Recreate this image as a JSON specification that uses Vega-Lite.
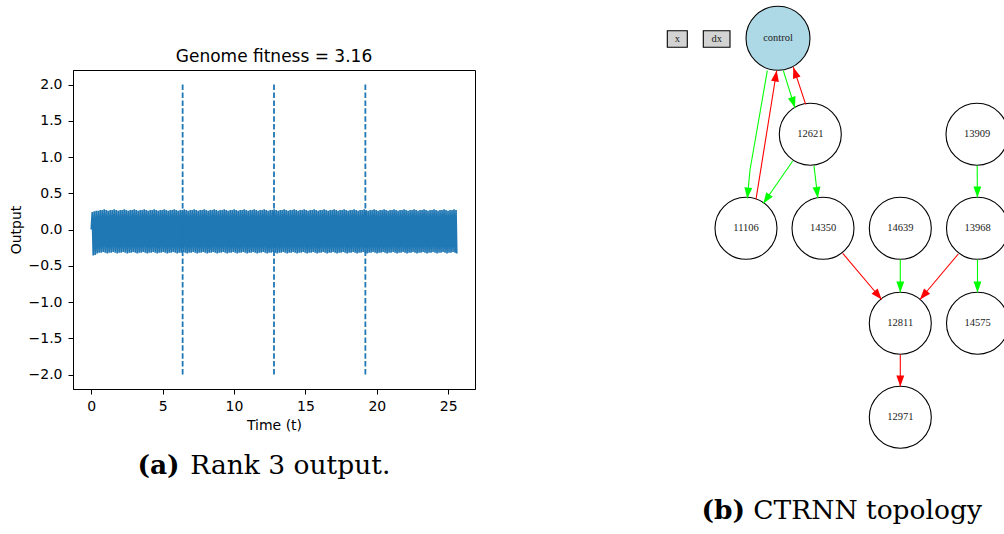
{
  "$schema": "https://vega.github.io/schema/vega-lite/v6.json",
  "background": "white",
  "padding": {"left": 8, "top": 0, "right": 0, "bottom": 0},
  "spacing": 125,
  "bounds": "flush",
  "center": true,
  "config": {"view": {"stroke": null}, "axis": {"labelOverlap": false}},
  "datasets": {
    "signal": [
      {"t":0,"v":0},{"t":0.07,"v":0.24},{"t":0.14,"v":-0.36},{"t":0.21,"v":0.25},{"t":0.28,"v":-0.35},{"t":0.35,"v":0.26},{"t":0.42,"v":-0.33},{"t":0.49,"v":0.26},{"t":0.56,"v":-0.32},{"t":0.63,"v":0.27},
      {"t":0.7,"v":-0.32},{"t":0.77,"v":0.27},{"t":0.84,"v":-0.31},{"t":0.91,"v":0.28},{"t":0.98,"v":-0.32},{"t":1.05,"v":0.27},{"t":1.12,"v":-0.33},{"t":1.19,"v":0.26},{"t":1.26,"v":-0.32},{"t":1.33,"v":0.27},
      {"t":1.4,"v":-0.32},{"t":1.47,"v":0.27},{"t":1.54,"v":-0.31},{"t":1.61,"v":0.28},{"t":1.68,"v":-0.32},{"t":1.75,"v":0.27},{"t":1.82,"v":-0.33},{"t":1.89,"v":0.26},{"t":1.96,"v":-0.32},{"t":2.03,"v":0.27},
      {"t":2.1,"v":-0.32},{"t":2.17,"v":0.27},{"t":2.24,"v":-0.31},{"t":2.31,"v":0.28},{"t":2.38,"v":-0.32},{"t":2.45,"v":0.27},{"t":2.52,"v":-0.33},{"t":2.59,"v":0.26},{"t":2.66,"v":-0.32},{"t":2.73,"v":0.27},
      {"t":2.8,"v":-0.32},{"t":2.87,"v":0.27},{"t":2.94,"v":-0.31},{"t":3.01,"v":0.28},{"t":3.08,"v":-0.32},{"t":3.15,"v":0.27},{"t":3.22,"v":-0.33},{"t":3.29,"v":0.26},{"t":3.36,"v":-0.32},{"t":3.43,"v":0.27},
      {"t":3.5,"v":-0.32},{"t":3.57,"v":0.27},{"t":3.64,"v":-0.31},{"t":3.71,"v":0.28},{"t":3.78,"v":-0.32},{"t":3.85,"v":0.27},{"t":3.92,"v":-0.33},{"t":3.99,"v":0.26},{"t":4.06,"v":-0.32},{"t":4.13,"v":0.27},
      {"t":4.2,"v":-0.32},{"t":4.27,"v":0.27},{"t":4.34,"v":-0.31},{"t":4.41,"v":0.28},{"t":4.48,"v":-0.32},{"t":4.55,"v":0.27},{"t":4.62,"v":-0.33},{"t":4.69,"v":0.26},{"t":4.76,"v":-0.32},{"t":4.83,"v":0.27},
      {"t":4.9,"v":-0.32},{"t":4.97,"v":0.27},{"t":5.04,"v":-0.31},{"t":5.11,"v":0.28},{"t":5.18,"v":-0.32},{"t":5.25,"v":0.27},{"t":5.32,"v":-0.33},{"t":5.39,"v":0.26},{"t":5.46,"v":-0.32},{"t":5.53,"v":0.27},
      {"t":5.6,"v":-0.32},{"t":5.67,"v":0.27},{"t":5.74,"v":-0.31},{"t":5.81,"v":0.28},{"t":5.88,"v":-0.32},{"t":5.95,"v":0.27},{"t":6.02,"v":-0.33},{"t":6.09,"v":0.26},{"t":6.16,"v":-0.32},{"t":6.23,"v":0.27},
      {"t":6.3,"v":-0.32},{"t":6.37,"v":0.27},{"t":6.44,"v":-0.31},{"t":6.51,"v":0.28},{"t":6.58,"v":-0.32},{"t":6.65,"v":0.27},{"t":6.72,"v":-0.33},{"t":6.79,"v":0.26},{"t":6.86,"v":-0.32},{"t":6.93,"v":0.27},
      {"t":7,"v":-0.32},{"t":7.07,"v":0.27},{"t":7.14,"v":-0.31},{"t":7.21,"v":0.28},{"t":7.28,"v":-0.32},{"t":7.35,"v":0.27},{"t":7.42,"v":-0.33},{"t":7.49,"v":0.26},{"t":7.56,"v":-0.32},{"t":7.63,"v":0.27},
      {"t":7.7,"v":-0.32},{"t":7.77,"v":0.27},{"t":7.84,"v":-0.31},{"t":7.91,"v":0.28},{"t":7.98,"v":-0.32},{"t":8.05,"v":0.27},{"t":8.12,"v":-0.33},{"t":8.19,"v":0.26},{"t":8.26,"v":-0.32},{"t":8.33,"v":0.27},
      {"t":8.4,"v":-0.32},{"t":8.47,"v":0.27},{"t":8.54,"v":-0.31},{"t":8.61,"v":0.28},{"t":8.68,"v":-0.32},{"t":8.75,"v":0.27},{"t":8.82,"v":-0.33},{"t":8.89,"v":0.26},{"t":8.96,"v":-0.32},{"t":9.03,"v":0.27},
      {"t":9.1,"v":-0.32},{"t":9.17,"v":0.27},{"t":9.24,"v":-0.31},{"t":9.31,"v":0.28},{"t":9.38,"v":-0.32},{"t":9.45,"v":0.27},{"t":9.52,"v":-0.33},{"t":9.59,"v":0.26},{"t":9.66,"v":-0.32},{"t":9.73,"v":0.27},
      {"t":9.8,"v":-0.32},{"t":9.87,"v":0.27},{"t":9.94,"v":-0.31},{"t":10.01,"v":0.28},{"t":10.08,"v":-0.32},{"t":10.15,"v":0.27},{"t":10.22,"v":-0.33},{"t":10.29,"v":0.26},{"t":10.36,"v":-0.32},{"t":10.43,"v":0.27},
      {"t":10.5,"v":-0.32},{"t":10.57,"v":0.27},{"t":10.64,"v":-0.31},{"t":10.71,"v":0.28},{"t":10.78,"v":-0.32},{"t":10.85,"v":0.27},{"t":10.92,"v":-0.33},{"t":10.99,"v":0.26},{"t":11.06,"v":-0.32},{"t":11.13,"v":0.27},
      {"t":11.2,"v":-0.32},{"t":11.27,"v":0.27},{"t":11.34,"v":-0.31},{"t":11.41,"v":0.28},{"t":11.48,"v":-0.32},{"t":11.55,"v":0.27},{"t":11.62,"v":-0.33},{"t":11.69,"v":0.26},{"t":11.76,"v":-0.32},{"t":11.83,"v":0.27},
      {"t":11.9,"v":-0.32},{"t":11.97,"v":0.27},{"t":12.04,"v":-0.31},{"t":12.11,"v":0.28},{"t":12.18,"v":-0.32},{"t":12.25,"v":0.27},{"t":12.32,"v":-0.33},{"t":12.39,"v":0.26},{"t":12.46,"v":-0.32},{"t":12.53,"v":0.27},
      {"t":12.6,"v":-0.32},{"t":12.67,"v":0.27},{"t":12.74,"v":-0.31},{"t":12.81,"v":0.28},{"t":12.88,"v":-0.32},{"t":12.95,"v":0.27},{"t":13.02,"v":-0.33},{"t":13.09,"v":0.26},{"t":13.16,"v":-0.32},{"t":13.23,"v":0.27},
      {"t":13.3,"v":-0.32},{"t":13.37,"v":0.27},{"t":13.44,"v":-0.31},{"t":13.51,"v":0.28},{"t":13.58,"v":-0.32},{"t":13.65,"v":0.27},{"t":13.72,"v":-0.33},{"t":13.79,"v":0.26},{"t":13.86,"v":-0.32},{"t":13.93,"v":0.27},
      {"t":14,"v":-0.32},{"t":14.07,"v":0.27},{"t":14.14,"v":-0.31},{"t":14.21,"v":0.28},{"t":14.28,"v":-0.32},{"t":14.35,"v":0.27},{"t":14.42,"v":-0.33},{"t":14.49,"v":0.26},{"t":14.56,"v":-0.32},{"t":14.63,"v":0.27},
      {"t":14.7,"v":-0.32},{"t":14.77,"v":0.27},{"t":14.84,"v":-0.31},{"t":14.91,"v":0.28},{"t":14.98,"v":-0.32},{"t":15.05,"v":0.27},{"t":15.12,"v":-0.33},{"t":15.19,"v":0.26},{"t":15.26,"v":-0.32},{"t":15.33,"v":0.27},
      {"t":15.4,"v":-0.32},{"t":15.47,"v":0.27},{"t":15.54,"v":-0.31},{"t":15.61,"v":0.28},{"t":15.68,"v":-0.32},{"t":15.75,"v":0.27},{"t":15.82,"v":-0.33},{"t":15.89,"v":0.26},{"t":15.96,"v":-0.32},{"t":16.03,"v":0.27},
      {"t":16.1,"v":-0.32},{"t":16.17,"v":0.27},{"t":16.24,"v":-0.31},{"t":16.31,"v":0.28},{"t":16.38,"v":-0.32},{"t":16.45,"v":0.27},{"t":16.52,"v":-0.33},{"t":16.59,"v":0.26},{"t":16.66,"v":-0.32},{"t":16.73,"v":0.27},
      {"t":16.8,"v":-0.32},{"t":16.87,"v":0.27},{"t":16.94,"v":-0.31},{"t":17.01,"v":0.28},{"t":17.08,"v":-0.32},{"t":17.15,"v":0.27},{"t":17.22,"v":-0.33},{"t":17.29,"v":0.26},{"t":17.36,"v":-0.32},{"t":17.43,"v":0.27},
      {"t":17.5,"v":-0.32},{"t":17.57,"v":0.27},{"t":17.64,"v":-0.31},{"t":17.71,"v":0.28},{"t":17.78,"v":-0.32},{"t":17.85,"v":0.27},{"t":17.92,"v":-0.33},{"t":17.99,"v":0.26},{"t":18.06,"v":-0.32},{"t":18.13,"v":0.27},
      {"t":18.2,"v":-0.32},{"t":18.27,"v":0.27},{"t":18.34,"v":-0.31},{"t":18.41,"v":0.28},{"t":18.48,"v":-0.32},{"t":18.55,"v":0.27},{"t":18.62,"v":-0.33},{"t":18.69,"v":0.26},{"t":18.76,"v":-0.32},{"t":18.83,"v":0.27},
      {"t":18.9,"v":-0.32},{"t":18.97,"v":0.27},{"t":19.04,"v":-0.31},{"t":19.11,"v":0.28},{"t":19.18,"v":-0.32},{"t":19.25,"v":0.27},{"t":19.32,"v":-0.33},{"t":19.39,"v":0.26},{"t":19.46,"v":-0.32},{"t":19.53,"v":0.27},
      {"t":19.6,"v":-0.32},{"t":19.67,"v":0.27},{"t":19.74,"v":-0.31},{"t":19.81,"v":0.28},{"t":19.88,"v":-0.32},{"t":19.95,"v":0.27},{"t":20.02,"v":-0.33},{"t":20.09,"v":0.26},{"t":20.16,"v":-0.32},{"t":20.23,"v":0.27},
      {"t":20.3,"v":-0.32},{"t":20.37,"v":0.27},{"t":20.44,"v":-0.31},{"t":20.51,"v":0.28},{"t":20.58,"v":-0.32},{"t":20.65,"v":0.27},{"t":20.72,"v":-0.33},{"t":20.79,"v":0.26},{"t":20.86,"v":-0.32},{"t":20.93,"v":0.27},
      {"t":21,"v":-0.32},{"t":21.07,"v":0.27},{"t":21.14,"v":-0.31},{"t":21.21,"v":0.28},{"t":21.28,"v":-0.32},{"t":21.35,"v":0.27},{"t":21.42,"v":-0.33},{"t":21.49,"v":0.26},{"t":21.56,"v":-0.32},{"t":21.63,"v":0.27},
      {"t":21.7,"v":-0.32},{"t":21.77,"v":0.27},{"t":21.84,"v":-0.31},{"t":21.91,"v":0.28},{"t":21.98,"v":-0.32},{"t":22.05,"v":0.27},{"t":22.12,"v":-0.33},{"t":22.19,"v":0.26},{"t":22.26,"v":-0.32},{"t":22.33,"v":0.27},
      {"t":22.4,"v":-0.32},{"t":22.47,"v":0.27},{"t":22.54,"v":-0.31},{"t":22.61,"v":0.28},{"t":22.68,"v":-0.32},{"t":22.75,"v":0.27},{"t":22.82,"v":-0.33},{"t":22.89,"v":0.26},{"t":22.96,"v":-0.32},{"t":23.03,"v":0.27},
      {"t":23.1,"v":-0.32},{"t":23.17,"v":0.27},{"t":23.24,"v":-0.31},{"t":23.31,"v":0.28},{"t":23.38,"v":-0.32},{"t":23.45,"v":0.27},{"t":23.52,"v":-0.33},{"t":23.59,"v":0.26},{"t":23.66,"v":-0.32},{"t":23.73,"v":0.27},
      {"t":23.8,"v":-0.32},{"t":23.87,"v":0.27},{"t":23.94,"v":-0.31},{"t":24.01,"v":0.28},{"t":24.08,"v":-0.32},{"t":24.15,"v":0.27},{"t":24.22,"v":-0.33},{"t":24.29,"v":0.26},{"t":24.36,"v":-0.32},{"t":24.43,"v":0.27},
      {"t":24.5,"v":-0.32},{"t":24.57,"v":0.27},{"t":24.64,"v":-0.31},{"t":24.71,"v":0.28},{"t":24.78,"v":-0.32},{"t":24.85,"v":0.27},{"t":24.92,"v":-0.33},{"t":24.99,"v":0.26},{"t":25.06,"v":-0.32},{"t":25.13,"v":0.27},
      {"t":25.2,"v":-0.32},{"t":25.27,"v":0.27},{"t":25.34,"v":-0.31},{"t":25.41,"v":0.28},{"t":25.48,"v":-0.32},{"t":25.55,"v":0.27},{"t":25.6,"v":-0.33}
    ],
    "vlines": [
      {"t":6.4,"lo":-2,"hi":2},{"t":12.8,"lo":-2,"hi":2},{"t":19.2,"lo":-2,"hi":2}
    ],
    "capA": [{"tag":"(a)","caption":"Rank 3 output.","x":6.54,"y":-3.377}],
    "capB": [{"tag":"(b)","caption":"CTRNN topology","x":149,"y":519.3}],
    "nodes": [
      {"id":"x","kind":"input","x":77.3,"y":39},
      {"id":"dx","kind":"input","x":116.7,"y":39},
      {"id":"control","kind":"output","x":178,"y":38.3},
      {"id":"12621","kind":"hidden","x":210.3,"y":134.3},
      {"id":"13909","kind":"hidden","x":377,"y":134.3},
      {"id":"11106","kind":"hidden","x":146,"y":228.3},
      {"id":"14350","kind":"hidden","x":223,"y":228.3},
      {"id":"14639","kind":"hidden","x":300.3,"y":228.3},
      {"id":"13968","kind":"hidden","x":377.5,"y":228.3},
      {"id":"12811","kind":"hidden","x":300.3,"y":323.3},
      {"id":"14575","kind":"hidden","x":377.5,"y":323.3},
      {"id":"12971","kind":"hidden","x":300.3,"y":417.3}
    ],
    "boxes": [
      {"id":"x","x1":67.3,"x2":87.3,"y1":30.7,"y2":47.3},
      {"id":"dx","x1":103.3,"x2":130,"y1":30.7,"y2":47.3}
    ],
    "edges": [
      {"src":"control","dst":"11106","sign":"excitatory","x1":167.3,"y1":70.7,"x2":150,"y2":170,"head":false},
      {"src":"control","dst":"11106","sign":"excitatory","x1":150,"y1":170,"x2":147.3,"y2":198.5,"head":true},
      {"src":"11106","dst":"control","sign":"inhibitory","x1":156,"y1":199.3,"x2":176.7,"y2":70.5,"head":true},
      {"src":"control","dst":"12621","sign":"excitatory","x1":183.3,"y1":70.7,"x2":195,"y2":107.8,"head":true},
      {"src":"12621","dst":"control","sign":"inhibitory","x1":205.7,"y1":104.3,"x2":193.3,"y2":67.2,"head":true},
      {"src":"12621","dst":"11106","sign":"excitatory","x1":192.7,"y1":161,"x2":163.3,"y2":203.5,"head":true},
      {"src":"12621","dst":"14350","sign":"excitatory","x1":214,"y1":165.7,"x2":217.8,"y2":198,"head":true},
      {"src":"13909","dst":"13968","sign":"excitatory","x1":377.2,"y1":165.7,"x2":377.4,"y2":197.5,"head":true},
      {"src":"14350","dst":"12811","sign":"inhibitory","x1":242.7,"y1":253.3,"x2":281.7,"y2":299.5,"head":true},
      {"src":"14639","dst":"12811","sign":"excitatory","x1":300.3,"y1":259.5,"x2":300.3,"y2":292.5,"head":true},
      {"src":"13968","dst":"12811","sign":"inhibitory","x1":358.3,"y1":254,"x2":320,"y2":299.5,"head":true},
      {"src":"13968","dst":"14575","sign":"excitatory","x1":377.5,"y1":259.5,"x2":377.5,"y2":292.5,"head":true},
      {"src":"12811","dst":"12971","sign":"inhibitory","x1":300.3,"y1":354.5,"x2":300.3,"y2":386.5,"head":true}
    ]
  },
  "hconcat": [
    {
      "width": 402,
      "height": 319,
      "view": {"stroke": "black", "strokeWidth": 1},
      "title": {"text": "Genome fitness = 3.16", "font": "DejaVu Sans", "fontSize": 17, "fontWeight": "normal", "color": "black", "anchor": "middle", "baseline": "alphabetic", "offset": -9},
      "encoding": {
        "x": {"type": "quantitative", "scale": {"domain": [-1.28, 26.88], "nice": false, "zero": false},
          "axis": {"values": [0, 5, 10, 15, 20, 25], "title": "Time (t)", "labelFont": "DejaVu Sans", "labelFontSize": 14, "titleFont": "DejaVu Sans", "titleFontSize": 14, "titleFontWeight": "normal", "labelColor": "black", "titleColor": "black", "tickColor": "black", "domainColor": "black", "tickSize": 5, "labelPadding": 5, "titlePadding": 5, "grid": false, "labelFlush": false, "labelOverlap": false}},
        "y": {"type": "quantitative", "scale": {"domain": [-2.2, 2.2], "nice": false, "zero": false},
          "axis": {"tickCount": 9, "values": [-2, -1.5, -1, -0.5, 0, 0.5, 1, 1.5, 2], "labelExpr": "replace(format(datum.value, '.1f'), '-', '\u2212')", "title": "Output", "labelFont": "DejaVu Sans", "labelFontSize": 14, "titleFont": "DejaVu Sans", "titleFontSize": 14, "titleFontWeight": "normal", "labelColor": "black", "titleColor": "black", "tickColor": "black", "domainColor": "black", "tickSize": 5, "labelPadding": 6, "titlePadding": 5, "grid": false, "labelOverlap": false, "labelFlush": false, "labelSeparation": 0}}
      },
      "layer": [
        {
          "data": {"name": "signal"},
          "mark": {"type": "line", "color": "#1f77b4", "strokeWidth": 1.7},
          "encoding": {
            "x": {"field": "t"},
            "y": {"field": "v"}
          }
        },
        {
          "data": {"name": "vlines"},
          "mark": {"type": "rule", "color": "#1f77b4", "strokeWidth": 1.8, "strokeDash": [5.5, 2.4]},
          "encoding": {
            "x": {"field": "t"},
            "y": {"field": "lo"},
            "y2": {"field": "hi"}
          }
        },
        {
          "data": {"name": "capA"},
          "mark": {"type": "text", "font": "DejaVu Serif", "fontSize": 26.5, "fontWeight": "bold", "align": "right", "baseline": "alphabetic", "dx": -5, "color": "black"},
          "encoding": {
            "x": {"field": "x"},
            "y": {"field": "y"},
            "text": {"field": "tag"}
          }
        },
        {
          "data": {"name": "capA"},
          "mark": {"type": "text", "font": "DejaVu Serif", "fontSize": 26.5, "fontWeight": "normal", "align": "left", "baseline": "alphabetic", "dx": 5.7, "color": "black"},
          "encoding": {
            "x": {"field": "x"},
            "y": {"field": "y"},
            "text": {"field": "caption"}
          }
        }
      ]
    },
    {
      "width": 404,
      "height": 459,
      "view": {"stroke": null},
      "encoding": {
        "x": {"type": "quantitative", "scale": {"domain": [0, 404], "nice": false, "zero": false}, "axis": null},
        "y": {"type": "quantitative", "scale": {"domain": [0, 459], "nice": false, "zero": false, "reverse": true}, "axis": null}
      },
      "layer": [
        {
          "data": {"name": "nodes"},
          "transform": [{"filter": "datum.kind !== 'input'"}],
          "mark": {"type": "point", "shape": "circle", "filled": true, "stroke": "black", "strokeWidth": 1.1, "opacity": 1, "clip": true},
          "encoding": {
            "x": {"field": "x"},
            "y": {"field": "y"},
            "fill": {"condition": {"test": "datum.kind === 'output'", "value": "#add8e6"}, "value": "white"},
            "size": {"condition": {"test": "datum.kind === 'output'", "value": 4096}, "value": 3844}
          }
        },
        {
          "data": {"name": "boxes"},
          "mark": {"type": "rect", "fill": "#d3d3d3", "stroke": "black", "strokeWidth": 1.1},
          "encoding": {
            "x": {"field": "x1"},
            "x2": {"field": "x2"},
            "y": {"field": "y1"},
            "y2": {"field": "y2"}
          }
        },
        {
          "data": {"name": "edges"},
          "mark": {"type": "rule", "strokeWidth": 1.1},
          "encoding": {
            "x": {"field": "x1"},
            "x2": {"field": "x2"},
            "y": {"field": "y1"},
            "y2": {"field": "y2"},
            "color": {"field": "sign", "type": "nominal", "scale": {"domain": ["excitatory", "inhibitory"], "range": ["#00ff00", "#ff0000"]}, "legend": null}
          }
        },
        {
          "data": {"name": "edges"},
          "transform": [
            {"filter": "datum.head"},
            {"calculate": "atan2(-(datum.x2 - datum.x1), datum.y2 - datum.y1) * 180 / PI", "as": "ang"}
          ],
          "mark": {"type": "point", "shape": "M0,0L-0.36,-1L0.36,-1Z", "filled": true, "opacity": 1, "size": 484, "strokeWidth": 0},
          "encoding": {
            "x": {"field": "x2"},
            "y": {"field": "y2"},
            "angle": {"field": "ang", "type": "quantitative", "scale": null},
            "color": {"field": "sign", "type": "nominal", "scale": {"domain": ["excitatory", "inhibitory"], "range": ["#00ff00", "#ff0000"]}, "legend": null}
          }
        },
        {
          "data": {"name": "nodes"},
          "mark": {"type": "text", "font": "Liberation Serif", "fontSize": 10.5, "align": "center", "baseline": "middle", "color": "#222222", "clip": true},
          "encoding": {
            "x": {"field": "x"},
            "y": {"field": "y"},
            "text": {"field": "id"}
          }
        },
        {
          "data": {"name": "capB"},
          "mark": {"type": "text", "font": "DejaVu Serif", "fontSize": 26.5, "fontWeight": "bold", "align": "right", "baseline": "alphabetic", "dx": -4, "color": "black"},
          "encoding": {
            "x": {"field": "x"},
            "y": {"field": "y"},
            "text": {"field": "tag"}
          }
        },
        {
          "data": {"name": "capB"},
          "mark": {"type": "text", "font": "DejaVu Serif", "fontSize": 26.5, "fontWeight": "normal", "align": "left", "baseline": "alphabetic", "dx": 4.3, "color": "black"},
          "encoding": {
            "x": {"field": "x"},
            "y": {"field": "y"},
            "text": {"field": "caption"}
          }
        }
      ]
    }
  ]
}
